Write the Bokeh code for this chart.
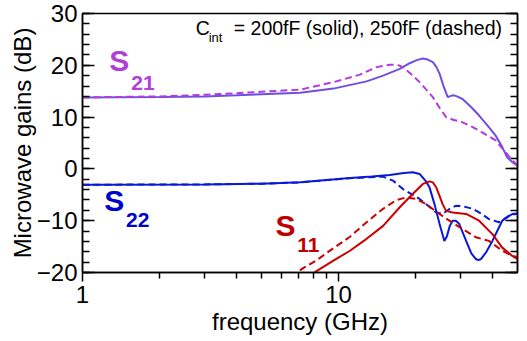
from bokeh.plotting import figure
from bokeh.models import FixedTicker, LinearAxis, Label, PrintfTickFormatter, Range1d
from bokeh.embed import file_html
from bokeh.resources import INLINE

# ---- data (frequency in GHz, gains in dB) ----
f_s21_solid = [1, 2, 3, 4, 5, 7.09, 9.55, 12.87, 14.93, 17.34, 18.96, 19.8, 20.5, 21.35, 22.3, 23.35,
               24.1, 24.8, 25.7, 26.7, 27.5, 28.3, 29.3, 30.5, 33.0, 35.4, 38.0, 41.1, 43.5, 45.6, 48.0, 50]
s21_solid = [13.8, 13.9, 14.0, 14.2, 14.4, 14.7, 15.5, 16.9, 18.0, 19.3, 20.4, 20.8, 21.1, 21.3, 21.1, 20.6,
             19.7, 18.4, 16.0, 13.85, 14.1, 14.2, 13.9, 13.5, 11.9, 10.3, 8.5, 6.4, 4.3, 2.2, 1.2, 0.6]

f_s21_dash = [1, 2, 3, 4, 5, 7.09, 9.55, 12.12, 14.07, 15.85, 17.0, 17.85, 19.2, 20.73, 22.0, 23.35,
              24.8, 26.3, 28.0, 30.5, 33.0, 35.4, 38.0, 41.1, 44.9, 47.5, 50]
s21_dash = [13.8, 14.0, 14.3, 14.6, 14.9, 15.3, 16.75, 18.2, 19.65, 20.1, 20.1, 19.65, 18.3, 16.75, 15.3, 13.85,
            11.8, 10.0, 9.5, 9.0, 8.2, 7.4, 6.5, 5.5, 3.2, 1.8, 0.6]

f_s22_solid = [1, 3, 5, 7.09, 11.08, 13.5, 15.85, 18.0, 19.52, 20.73, 21.8, 22.66, 23.7, 24.8, 25.9, 26.5,
               27.2, 27.9, 28.7, 29.6, 31.5, 33.0, 34.4, 35.2, 36.0, 37.8, 39.9, 43.6, 47.7, 50]
s22_solid = [-3.05, -3.0, -2.85, -2.6, -1.74, -1.45, -1.16, -0.8, -0.66, -0.97, -2.2, -3.56, -6.8, -10.6, -13.9, -13.0,
             -11.0, -10.0, -10.0, -10.6, -13.9, -16.3, -17.4, -17.6, -17.4, -16.0, -13.9, -10.0, -8.7, -8.6]

f_s22_dash = [1, 3, 5, 7.09, 11.08, 14.93, 16.32, 17.85, 20.73, 22.5, 24.07, 25.5, 27.0, 28.8, 30.5, 33.4,
              36.0, 38.7, 42.4, 46.4, 50]
s22_dash = [-3.05, -3.0, -2.85, -2.6, -1.8, -1.5, -2.26, -3.9, -5.8, -7.2, -8.4, -8.7, -7.8, -7.1, -7.2, -7.7,
            -8.6, -9.7, -10.3, -9.0, -8.6]

f_s11_solid = [6.5, 8.23, 9.55, 11.08, 12.87, 14.93, 17.34, 19.52, 21.35, 22.66, 23.35, 24.1, 24.8, 25.5, 26.3,
               27.9, 31.5, 35.4, 39.9, 43.6, 47.7, 50]
s11_solid = [-23.0, -19.7, -17.7, -15.8, -13.5, -11.0, -7.4, -4.8, -2.9, -2.4, -2.6, -3.6, -5.2, -6.8, -8.1,
             -8.4, -8.7, -10.0, -12.6, -15.2, -16.8, -17.0]

f_s11_dash = [6.0, 7.3, 8.23, 9.55, 11.08, 12.87, 14.93, 16.83, 18.4, 20.1, 22.0, 24.8, 27.1, 30.5, 34.4,
              38.7, 43.6, 47.7, 50]
s11_dash = [-22.0, -19.1, -17.6, -15.3, -13.1, -10.3, -7.7, -6.0, -5.5, -5.8, -6.8, -8.7, -10.0, -11.6, -13.2,
            -13.9, -15.8, -16.8, -17.4]

x_major = [1, 10]
x_minor = [2, 3, 4, 5, 6, 7, 8, 9, 20, 30, 40]
y_major = [-20, -10, 0, 10, 20, 30]
y_minor = list(range(-20, 31, 2))

FONT = "Liberation Sans"
C21_SOLID = "#6e4fe2"
C21_DASH = "#b23ade"
C21_TEXT = "#b040d8"
C22 = "#0a18d6"
C22_TEXT = "#0000cc"
C11 = "#cc0000"
C11_TEXT = "#c00000"

p = figure(width=527, height=341, x_axis_type="log",
           x_range=Range1d(1, 50), y_range=Range1d(-20, 30),
           output_backend="svg", toolbar_location=None,
           min_border_left=82, min_border_right=10, min_border_top=13, min_border_bottom=69)

p.xgrid.visible = False
p.ygrid.visible = False
p.outline_line_color = "black"
p.outline_line_width = 1.5
p.background_fill_color = "white"
p.border_fill_color = "white"

# lines
p.line(f_s21_solid, s21_solid, line_color=C21_SOLID, line_width=2)
p.line(f_s21_dash, s21_dash, line_color=C21_DASH, line_width=2, line_dash="7 4")
p.line(f_s22_solid, s22_solid, line_color=C22, line_width=2)
p.line(f_s22_dash, s22_dash, line_color=C22, line_width=2, line_dash="7 4")
p.line(f_s11_solid, s11_solid, line_color=C11, line_width=2)
p.line(f_s11_dash, s11_dash, line_color=C11, line_width=2, line_dash="7 4")

# x axis
xa = p.xaxis[0]
xa.ticker = FixedTicker(ticks=x_major, minor_ticks=x_minor)
xa.formatter = PrintfTickFormatter(format="%d")
xa.axis_label = "frequency (GHz)"
xa.major_tick_in = 0
xa.major_tick_out = 9
xa.minor_tick_in = 0
xa.minor_tick_out = 6

# y axis
ya = p.yaxis[0]
ya.ticker = FixedTicker(ticks=y_major, minor_ticks=y_minor)
ya.axis_label = "Microwave gains (dB)"
ya.major_tick_in = 12
ya.major_tick_out = 0
ya.minor_tick_in = 7
ya.minor_tick_out = 0

ra = LinearAxis(ticker=FixedTicker(ticks=y_major, minor_ticks=y_minor),
                major_label_overrides={v: "" for v in y_major}, major_label_standoff=0,
                major_tick_in=12, major_tick_out=0, minor_tick_in=7, minor_tick_out=0)
p.add_layout(ra, "right")

for ax in [xa, ya, ra]:
    ax.axis_line_color = "black"
    ax.axis_line_width = 1.5
    ax.major_tick_line_color = "black"
    ax.major_tick_line_width = 1.5
    ax.minor_tick_line_color = "black"
    ax.minor_tick_line_width = 1.5
    ax.major_label_text_font = FONT
    ax.axis_label_text_font = FONT
    ax.axis_label_text_font_style = "normal"
    ax.major_label_text_color = "black"
    ax.axis_label_text_color = "black"

xa.major_label_text_font_size = "24px"
ya.major_label_text_font_size = "24px"
ra.major_label_text_font_size = "10px"
xa.axis_label_text_font_size = "24px"
ya.axis_label_text_font_size = "24px"
xa.major_label_standoff = 4
ya.major_label_standoff = 5
xa.axis_label_standoff = 2
ya.axis_label_standoff = -2

LIFT = 9  # screen px

# annotation text
p.add_layout(Label(x=2.77, y=25.45, text="C", text_font=FONT, text_font_size="19.5px",
                   text_color="black", text_baseline="alphabetic", text_align="left", y_offset=LIFT))
p.add_layout(Label(x=3.11, y=23.6, text="int", text_font=FONT, text_font_size="13px",
                   text_color="black", text_baseline="alphabetic", text_align="left", y_offset=LIFT))
p.add_layout(Label(x=43.5, y=25.45, text="= 200fF (solid), 250fF (dashed)", text_font=FONT,
                   text_font_size="19.5px", text_color="black", text_baseline="alphabetic",
                   text_align="right", y_offset=LIFT))

# S-parameter labels
def s_label(xs, ys, xsub, ysub, sub, color):
    p.add_layout(Label(x=xs, y=ys, text="S", text_font=FONT, text_font_size="30px",
                       text_font_style="bold", text_color=color, text_baseline="alphabetic",
                       y_offset=LIFT + 1))
    p.add_layout(Label(x=xsub, y=ysub, text=sub, text_font=FONT, text_font_size="21px",
                       text_font_style="bold", text_color=color, text_baseline="alphabetic",
                       y_offset=LIFT))

s_label(1.273, 19.0, 1.55, 14.76, "21", C21_TEXT)
s_label(1.217, -8.07, 1.48, -11.55, "22", C22_TEXT)
s_label(5.67, -12.9, 6.9, -16.4, "11", C11_TEXT)

open("out.html", "w").write(file_html(p, INLINE))
